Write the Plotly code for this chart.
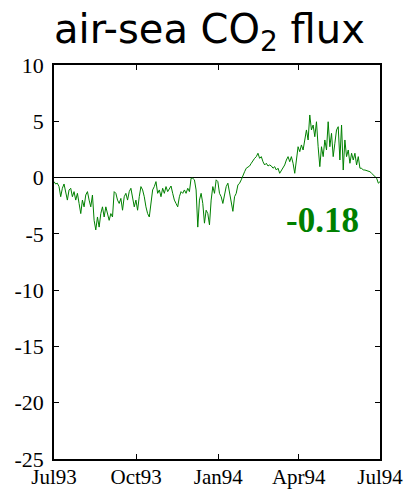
import pandas as pd
import plotly.graph_objects as go

# Daily-ish air-sea CO2 flux, Jul 1993 - Jul 1994
flux = [
    -0.36, -0.57, -0.5, -0.8, -1.7, -0.95, -0.57, -1.4, -2.0, -1.1,
    -0.95, -1.7, -1.25, -2.0, -1.4, -2.3, -3.2, -2.0, -2.6, -1.55,
    -1.25, -2.0, -2.6, -1.55, -3.8, -4.65, -3.5, -4.4, -3.2, -2.6,
    -3.5, -2.6, -3.2, -3.8, -3.2, -3.5, -1.25, -1.4, -2.0, -2.3,
    -1.85, -2.9, -1.7, -1.4, -2.0, -1.25, -0.95, -1.7, -2.6, -2.0,
    -2.9, -1.7, -0.8, -1.1, -1.7, -2.6, -3.2, -3.5, -2.0, -1.1,
    -0.8, -0.36, -1.4, -1.1, -1.7, -0.95, -1.4, -0.8, -1.25, -0.95,
    -0.75, -1.4, -2.0, -2.3, -2.6, -1.7, -1.25, -1.4, -1.1, -1.4,
    -0.95, -1.25, -0.06, -0.06, -0.2, -1.1, -4.4, -2.0, -1.4, -2.3,
    -4.05, -2.9,
    -3.2, -4.2, -2.0, -0.8, -1.4, -0.2, -0.36, -1.4, -1.7, -2.3,
    -1.4, -0.8, -0.5, -1.4, -2.3, -3.0, -1.7, -1.4, -0.66, -0.5,
    -0.2, 0.23, 0.52, 0.83, 0.97, 1.03, 1.27, 1.56, 1.71, 1.86,
    2.16, 1.71, 1.86, 1.41, 1.12, 1.27, 1.03, 1.12, 1.03, 0.83,
    0.97, 0.67, 0.83, 0.38, 0.67, 0.83, 1.12, 1.56, 1.86, 1.41,
    1.86, 1.27, 0.38, 1.56, 2.74, 2.3, 2.9, 2.45, 3.34, 4.23,
    3.34, 5.56, 4.23, 4.67, 3.63, 4.96, 2.74, 0.97, 2.74, 1.86,
    3.34, 2.45, 4.96, 2.74, 3.93, 1.86, 3.05, 4.23, 4.52, 1.56,
    4.67, 0.67, 3.34, 1.86, 2.45, 1.27, 2.16, 1.56, 2.16, 1.12,
    1.86, 0.83, 0.83, 0.67, 0.67, 0.62, 0.52, 0.52, 0.38, 0.23,
    0.08, -0.06, -0.5, -0.36,
]
start_date = "1993-07-01"
end_date = "1994-07-01"

tick_dates = ["1993-07-01", "1993-10-01", "1994-01-01", "1994-04-01", "1994-07-01"]
tick_labels = ["Jul93", "Oct93", "Jan94", "Apr94", "Jul94"]
y_ticks = [10, 5, 0, -5, -10, -15, -20, -25]
mean_label = "-0.18"

dates = pd.date_range(start=start_date, end=end_date, periods=len(flux))

GREEN = "#008000"
SERIF = "Liberation Serif, Times New Roman, serif"

fig = go.Figure()
fig.add_trace(go.Scatter(
    x=dates, y=flux, mode="lines",
    line=dict(color=GREEN, width=1),
    hoverinfo="skip", showlegend=False,
))

fig.add_annotation(
    x="1994-04-28", y=-3.8, xref="x", yref="y",
    text=f"<b>{mean_label}</b>", showarrow=False,
    font=dict(family=SERIF, size=35, color=GREEN),
    xanchor="center", yanchor="middle",
)

fig.add_annotation(
    x=0.4785, y=1.0, xref="paper", yref="paper", yanchor="bottom", yshift=5,
    text="air-sea CO<sub>2</sub> flux", showarrow=False,
    font=dict(family="DejaVu Sans, Verdana, sans-serif", size=40, color="black"),
)

fig.update_layout(
    width=411, height=489,
    margin=dict(l=54, r=31, t=65, b=30),
    paper_bgcolor="white", plot_bgcolor="white",
    xaxis=dict(
        range=[start_date, end_date], automargin=False,
        tickvals=tick_dates, ticktext=tick_labels,
        ticks="inside", ticklen=5, tickwidth=1, tickcolor="black",
        showline=True, linecolor="black", linewidth=1.5, mirror="ticks",
        showgrid=False, zeroline=False, ticklabelstandoff=-2,
        tickfont=dict(family=SERIF, size=21, color="black"),
    ),
    yaxis=dict(
        range=[-25, 10], automargin=False,
        tickvals=y_ticks, ticktext=[str(v) for v in y_ticks],
        ticks="inside", ticklen=5, tickwidth=1, tickcolor="black",
        showline=True, linecolor="black", linewidth=1.5, mirror="ticks",
        showgrid=False, ticklabelstandoff=4,
        zeroline=True, zerolinecolor="black", zerolinewidth=1,
        tickfont=dict(family=SERIF, size=22, color="black"),
    ),
)

fig.write_html("out.html")
